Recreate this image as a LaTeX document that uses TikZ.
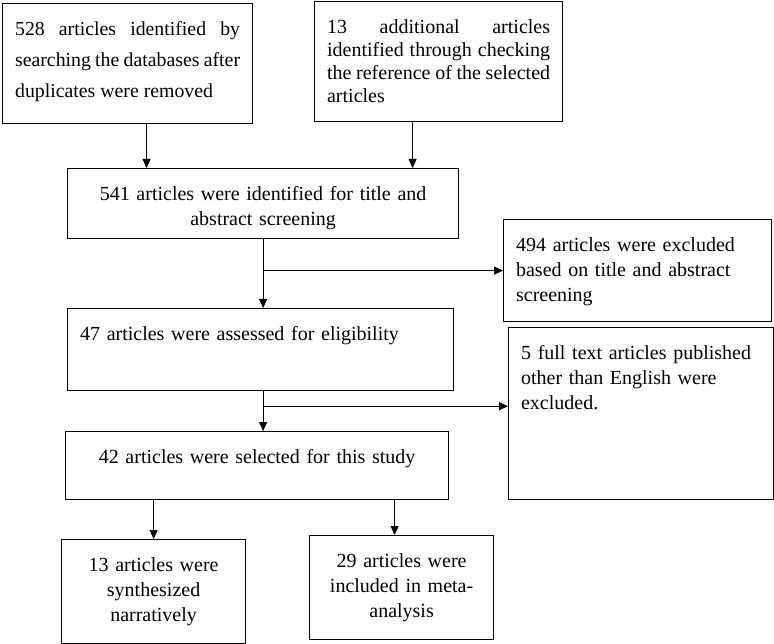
\documentclass[tikz,border=0pt]{standalone}
\usepackage{fontspec}
\setmainfont{Liberation Serif}
\usetikzlibrary{positioning, calc, arrows.meta}

\tikzset{
	flowbox/.style={draw, line width=1.2pt, anchor=north west, inner xsep=12.5pt, inner ysep=0pt,
		font=\fontsize{20}{25}\selectfont, text height=31.5pt},
	flowarrow/.style={-{Triangle[length=9pt, width=8pt]}, line width=0.9pt},
}

\begin{document}
\begin{tikzpicture}[x=1pt, y=-1pt]
	\useasboundingbox (0,0) rectangle (774,644);

	% sources
	\node[flowbox, text width=225pt, text depth=88.5pt, align=justify, font=\fontsize{19.8}{31}\selectfont] (db) at (2,3) {528 articles identified by\linebreak searching the databases after\linebreak duplicates were removed};
	\node[flowbox, text width=223pt, text depth=88.5pt, align=justify, font=\fontsize{20}{23}\selectfont] (refs) at (314,1) {13 additional articles\linebreak identified through checking\linebreak the reference of the selected\linebreak articles};

	% screening steps
	\node[flowbox, text width=366pt, text depth=38.5pt, align=center] (screen) at (67,168) {541 articles were identified for title and\\ abstract screening};
	\node[flowbox, text width=243pt, text depth=70.5pt, align=left] (excl1) at (503,219) {494 articles were excluded\\ based on title and abstract\\ screening};
	\node[flowbox, text width=361pt, text depth=50.5pt, align=left] (assess) at (67,308) {47 articles were assessed for eligibility};
	\node[flowbox, text width=240pt, text depth=140.5pt, align=left] (excl2) at (508,327) {5 full text articles published\\ other than English were\\ excluded.};
	\node[flowbox, text width=358pt, text depth=36.5pt, align=center] (select) at (65,431) {42 articles were selected for this study};

	% synthesis
	\node[flowbox, text width=159pt, text depth=72.5pt, align=center] (narr) at (61,539) {13 articles were\\ synthesized\\ narratively};
	\node[flowbox, text width=159pt, text depth=72.5pt, align=center] (meta) at (309,535) {29 articles were\\ included in meta-\\ analysis};

	\coordinate (split1) at (screen.south |- excl1.west);
	\coordinate (split2) at ([yshift=-15pt]assess.south -| screen.south);

	\draw[flowarrow] ([xshift=19pt]db.south) -- ([xshift=19pt]db.south |- screen.north);
	\draw[flowarrow] ([xshift=-26pt]refs.south) -- ([xshift=-26pt]refs.south |- screen.north);
	\draw[flowarrow] (screen.south) -- (screen.south |- assess.north);
	\draw[flowarrow] (split1) -- (excl1.west);
	\draw[flowarrow] (assess.south -| screen.south) -- (select.north -| screen.south);
	\draw[flowarrow] (split2) -- (split2 -| excl2.west);
	\draw[flowarrow] (narr.north |- select.south) -- (narr.north);
	\draw[flowarrow] ([xshift=-7pt]meta.north |- select.south) -- ([xshift=-7pt]meta.north);
\end{tikzpicture}
\end{document}
